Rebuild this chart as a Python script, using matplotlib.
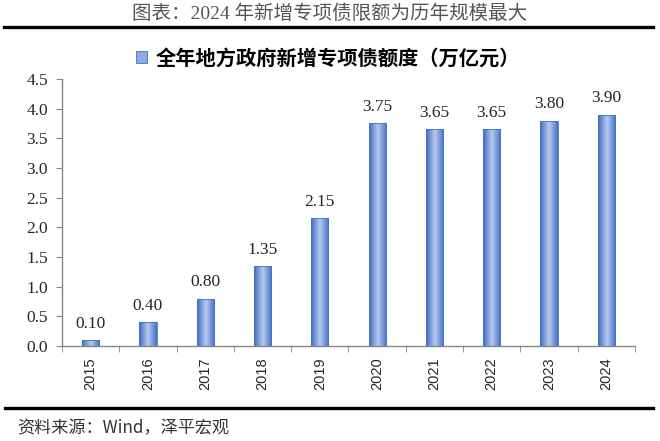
import numpy as np
import matplotlib
matplotlib.use("Agg")
import matplotlib.pyplot as plt
from matplotlib.lines import Line2D
from matplotlib.patches import Patch

# ==========================================
# 資料
years  = ["2015", "2016", "2017", "2018", "2019", "2020", "2021", "2022", "2023", "2024"]
values = [0.10, 0.40, 0.80, 1.35, 2.15, 3.75, 3.65, 3.65, 3.80, 3.90]
value_labels = ["0.10", "0.40", "0.80", "1.35", "2.15", "3.75", "3.65", "3.65", "3.80", "3.90"]
y_ticks = [0.0, 0.5, 1.0, 1.5, 2.0, 2.5, 3.0, 3.5, 4.0, 4.5]

title_text  = "图表：2024 年新增专项债限额为历年规模最大"
legend_text = "全年地方政府新增专项债额度（万亿元）"
source_text = "资料来源：Wind，泽平宏观"
# ==========================================

serif_cjk = ["Liberation Serif", "Noto Sans CJK SC"]
sans_cjk  = ["Noto Sans CJK SC", "DejaVu Sans"]

fig = plt.figure(figsize=(6.6, 4.41), dpi=100)
ax = fig.add_axes([0.094, 0.2154, 0.868, 0.6055])

x = np.arange(len(years))
bars = ax.bar(x, values, width=0.30, facecolor="none", edgecolor="#4472C4",
              linewidth=0.6, zorder=3)

# 漸層填色 (左右深、中間淺)
grad_colors = matplotlib.colors.LinearSegmentedColormap.from_list(
    "bar_grad", ["#3E6AC2", "#B7CAEF", "#4472C8"])
grad = np.linspace(0, 1, 64).reshape(1, -1)
for b in bars:
    x0, y0 = b.get_x(), b.get_y()
    x1, y1 = x0 + b.get_width(), y0 + b.get_height()
    im = ax.imshow(grad, cmap=grad_colors, extent=[x0, x1, y0, y1],
                   aspect="auto", zorder=2, interpolation="bilinear")
    im.set_clip_path(b)

for xi, v, lab in zip(x, values, value_labels):
    ax.annotate(lab, (xi, v), xytext=(0, 6), textcoords="offset points",
                ha="center", va="bottom", fontsize=12.5,
                family="Liberation Serif", color="#262626")

ax.set_xlim(-0.5, len(years) - 0.5)
ax.set_ylim(0, 4.5)
ax.set_yticks(y_ticks)
ax.set_yticklabels([f"{t:.1f}" for t in y_ticks], family="Liberation Serif",
                   fontsize=12.5, color="#262626")
ax.set_xticks(x)
ax.set_xticklabels(years, rotation=90, family="Liberation Sans",
                   fontsize=10.5, color="#262626")
ax.set_xticks(np.arange(-0.5, len(years)), minor=True)
ax.tick_params(axis="x", which="major", length=0, pad=8)
ax.tick_params(axis="x", which="minor", length=4, color="#868686", direction="out")
ax.tick_params(axis="y", length=4, color="#868686", direction="out", pad=6)

for s in ["top", "right"]:
    ax.spines[s].set_visible(False)
for s in ["left", "bottom"]:
    ax.spines[s].set_color("#868686")
    ax.spines[s].set_linewidth(1.0)

# 圖例
handle = Patch(facecolor="#8FAAE0", edgecolor="#4472C4", linewidth=0.6)
fig.legend([handle], [legend_text], loc="center", bbox_to_anchor=(0.497, 1 - 58 / 441),
           frameon=False, handlelength=0.55, handleheight=0.55, handletextpad=0.45,
           prop={"family": sans_cjk, "size": 14.6, "weight": "bold"})

# 標題與上下分隔線
fig.text(0.5, 1 - 14 / 441, title_text, ha="center", va="center",
         family=serif_cjk, fontsize=14, color="#555555")
fig.add_artist(Line2D([0.006, 0.99], [1 - 27 / 441] * 2, color="black", linewidth=2.4))
fig.add_artist(Line2D([0.008, 0.99], [1 - 408 / 441] * 2, color="black", linewidth=2.4))

fig.text(0.026, 1 - 428 / 441, source_text, ha="left", va="center",
         family=sans_cjk, fontsize=12.3, style="italic", color="#333333")

fig.savefig("out.png", dpi=100)
